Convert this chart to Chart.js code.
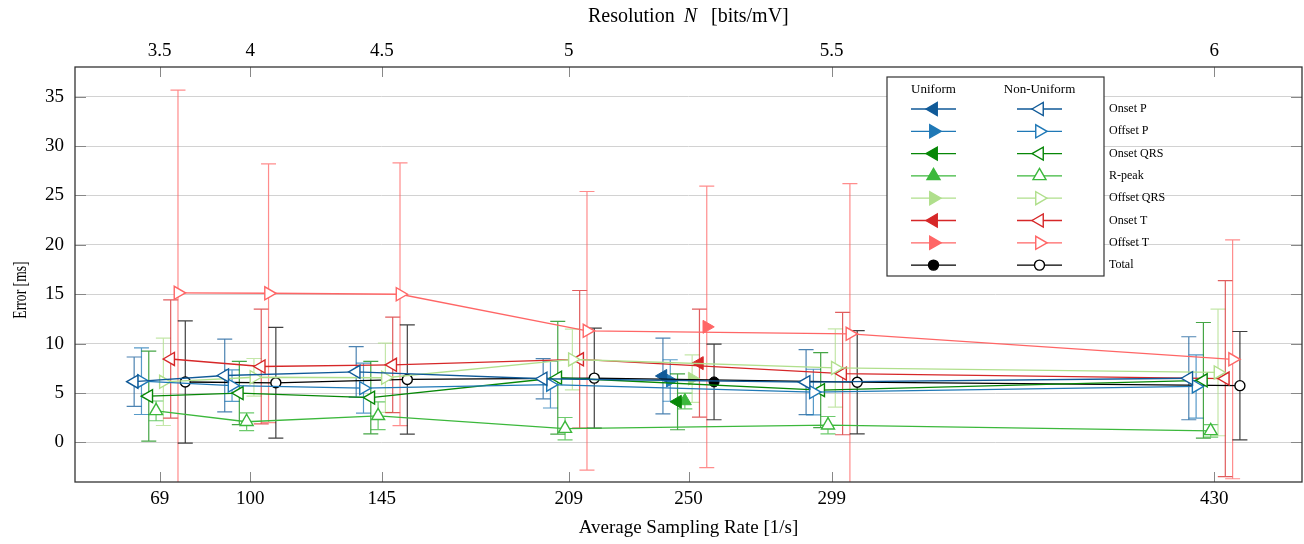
<!DOCTYPE html>
<html>
<head>
<meta charset="utf-8">
<script src="https://cdn.jsdelivr.net/npm/chart.js@4/dist/chart.umd.min.js"></script>
<style>
    html, body { margin: 0; padding: 0; background: #fff; }
</style>
</head>
<body>
<canvas id="ErrorChart" width="1304" height="544"></canvas>
<script>
// average sampling rates of the non-uniform runs, and their resolution N
var rates = [69, 100, 145, 209, 299, 430];
var resolutions = ['3.5', '4', '4.5', '5', '5.5', '6'];
var uniformRate = 250;
var rateTicks = [69, 100, 145, 209, 250, 299, 430];
var errorTicks = [0, 5, 10, 15, 20, 25, 30, 35];

var seriesNames = ['Onset P', 'Offset P', 'Onset QRS', 'R-peak', 'Offset QRS', 'Onset T', 'Offset T', 'Total'];

// non-uniform: mean error and std per rate
var onsetP = [6.15, 6.78, 7.15, 6.45, 6.1, 6.5];
var onsetPStd = [2.5, 3.68, 2.56, 2.03, 3.29, 4.2];
var offsetP = [6.2, 5.75, 5.5, 5.85, 5.1, 5.67];
var offsetPStd = [3.37, 1.6, 2.53, 2.36, 2.31, 3.2];
var onsetQRS = [4.69, 5.0, 4.54, 6.55, 5.3, 6.29];
var onsetQRSStd = [4.55, 3.2, 3.66, 5.7, 3.8, 5.85];
var rPeak = [3.2, 2.1, 2.7, 1.4, 1.75, 1.17];
var rPeakStd = [1.0, 0.9, 1.4, 1.13, 0.88, 0.63];
var offsetQRS = [6.14, 6.6, 6.55, 8.4, 7.54, 7.09];
var offsetQRSStd = [4.42, 1.9, 3.5, 3.07, 3.96, 6.41];
var onsetT = [8.45, 7.69, 7.86, 8.42, 6.97, 6.47];
var onsetTStd = [5.98, 5.8, 4.83, 6.96, 6.19, 9.92];
var offsetT = [15.15, 15.1, 15.0, 11.3, 11.0, 8.42];
var offsetTStd = [20.5, 13.1, 13.3, 14.1, 15.2, 12.09];
var total = [6.12, 6.04, 6.38, 6.51, 6.1, 5.75];
var totalStd = [6.18, 5.6, 5.53, 5.06, 5.23, 5.48];

// uniform sampling (250 1/s), same series order
var uniformMean = [6.73, 6.27, 4.12, 4.2, 6.46, 8.03, 11.7, 6.13];
var uniformStd = [3.83, 2.1, 2.83, 0.8, 2.41, 5.46, 14.25, 3.83];

var nonUniformMeans = [onsetP, offsetP, onsetQRS, rPeak, offsetQRS, onsetT, offsetT, total];
var nonUniformStds = [onsetPStd, offsetPStd, onsetQRSStd, rPeakStd, offsetQRSStd, onsetTStd, offsetTStd, totalStd];

var colors = ['#105a98', '#1f78b6', '#078707', '#3cb83c', '#b0df8c', '#d62728', '#ff6666', '#000000'];
var markers = ['left', 'right', 'left', 'up', 'right', 'left', 'right', 'circle'];

var serif = 'Liberation Serif, Times New Roman, serif';

function Shift(i) {
    // markers of one group are spread a little so the error bars stay apart
    return (i - 3.5) * 2.5;
}

function Rotation(m) {
    if (m == 'left') return -90;
    if (m == 'right') return 90;
    return 0;
}

var datasets = [];
for (var i = 0; i < seriesNames.length; i++) {
    var pts = [];
    for (var j = 0; j < rates.length; j++) {
        pts.push({ x: rates[j] + Shift(i), y: nonUniformMeans[i][j], err: nonUniformStds[i][j] });
    }
    datasets.push({
        label: seriesNames[i] + ' (non-uniform)',
        data: pts,
        borderColor: colors[i],
        backgroundColor: '#ffffff',
        borderWidth: 1.3,
        pointStyle: markers[i] == 'circle' ? 'circle' : 'triangle',
        rotation: Rotation(markers[i]),
        pointRadius: markers[i] == 'circle' ? 5 : 7.5,
        pointBorderWidth: 1.4,
        pointBackgroundColor: '#ffffff',
        pointBorderColor: colors[i],
        tension: 0
    });
}
for (var i = 0; i < seriesNames.length; i++) {
    datasets.push({
        label: seriesNames[i] + ' (uniform)',
        data: [{ x: uniformRate + Shift(i), y: uniformMean[i], err: uniformStd[i] }],
        borderColor: colors[i],
        backgroundColor: colors[i],
        borderWidth: 1.3,
        pointStyle: markers[i] == 'circle' ? 'circle' : 'triangle',
        rotation: Rotation(markers[i]),
        pointRadius: markers[i] == 'circle' ? 5 : 7.5,
        pointBorderWidth: 1,
        pointBackgroundColor: colors[i],
        pointBorderColor: colors[i]
    });
}

function DrawMark(ctx, m, x, y, color, filled) {
    ctx.save();
    ctx.strokeStyle = color;
    ctx.fillStyle = filled ? color : '#ffffff';
    ctx.lineWidth = 1.4;
    ctx.beginPath();
    if (m == 'circle') {
        ctx.arc(x, y, 5, 0, Math.PI * 2);
    } else {
        var rad = Rotation(m) * Math.PI / 180;
        var r = 7.5;
        for (var k = 0; k < 3; k++) {
            var a = rad + k * 2 * Math.PI / 3;
            var px = x + Math.sin(a) * r, py = y - Math.cos(a) * r;
            if (k == 0) ctx.moveTo(px, py); else ctx.lineTo(px, py);
        }
        ctx.closePath();
    }
    ctx.fill();
    ctx.stroke();
    ctx.restore();
}

var errorBars = {
    id: 'errorBars',
    beforeDatasetsDraw: function (chart) {
        var ctx = chart.ctx, a = chart.chartArea;
        var xs = chart.scales.x, ys = chart.scales.y;
        ctx.save();
        ctx.beginPath();
        ctx.rect(a.left, a.top, a.right - a.left, a.bottom - a.top);
        ctx.clip();
        ctx.globalAlpha = 0.75;
        ctx.lineWidth = 1.2;
        chart.data.datasets.forEach(function (ds) {
            ctx.strokeStyle = ds.borderColor;
            ds.data.forEach(function (p) {
                var x = xs.getPixelForValue(p.x);
                var y1 = ys.getPixelForValue(p.y + p.err);
                var y2 = ys.getPixelForValue(p.y - p.err);
                ctx.beginPath();
                ctx.moveTo(x, y1); ctx.lineTo(x, y2);
                ctx.moveTo(x - 7.5, y1); ctx.lineTo(x + 7.5, y1);
                ctx.moveTo(x - 7.5, y2); ctx.lineTo(x + 7.5, y2);
                ctx.stroke();
            });
        });
        ctx.restore();
    }
};

var frameAndLegend = {
    id: 'frameAndLegend',
    afterDraw: function (chart) {
        var ctx = chart.ctx, a = chart.chartArea;
        var xs = chart.scales.x, ys = chart.scales.y;
        ctx.save();
        // inward tick marks
        ctx.strokeStyle = '#888';
        ctx.lineWidth = 1;
        ctx.beginPath();
        rateTicks.forEach(function (v) {
            var x = Math.round(xs.getPixelForValue(v)) + 0.5;
            ctx.moveTo(x, a.bottom); ctx.lineTo(x, a.bottom - 10);
        });
        rates.forEach(function (v) {
            var x = Math.round(xs.getPixelForValue(v)) + 0.5;
            ctx.moveTo(x, a.top); ctx.lineTo(x, a.top + 10);
        });
        errorTicks.forEach(function (v) {
            var y = Math.round(ys.getPixelForValue(v)) + 0.5;
            ctx.moveTo(a.left, y); ctx.lineTo(a.left + 11, y);
            ctx.moveTo(a.right, y); ctx.lineTo(a.right - 11, y);
        });
        ctx.stroke();

        // axis frame
        ctx.strokeStyle = '#333';
        ctx.lineWidth = 1.3;
        ctx.strokeRect(a.left, a.top, a.right - a.left, a.bottom - a.top);

        // top title with italic N
        ctx.fillStyle = '#000';
        ctx.textBaseline = 'middle';
        ctx.textAlign = 'left';
        var x0 = 588;
        ctx.font = '20px ' + serif;
        ctx.fillText('Resolution', x0, 17);
        x0 += ctx.measureText('Resolution').width + 9;
        ctx.font = 'italic 20px ' + serif;
        ctx.fillText('N', x0, 17);
        x0 += ctx.measureText('N').width + 14;
        ctx.font = '20px ' + serif;
        ctx.fillText('[bits/mV]', x0, 17);

        // y axis title, set narrow like the reference
        ctx.save();
        ctx.translate(21, 290);
        ctx.rotate(-Math.PI / 2);
        ctx.scale(0.72, 1);
        ctx.textAlign = 'center';
        ctx.font = '19px ' + serif;
        ctx.fillText('Error [ms]', 0, 0);
        ctx.restore();

        // legend: box round the marks, names to its right
        var bx = 887, by = 77, bw = 217, bh = 199;
        ctx.fillStyle = '#fff';
        ctx.fillRect(bx, by, bw, bh);
        ctx.strokeStyle = '#333';
        ctx.lineWidth = 1.2;
        ctx.strokeRect(bx, by, bw, bh);
        ctx.fillStyle = '#000';
        ctx.font = '13px ' + serif;
        ctx.textAlign = 'center';
        ctx.fillText('Uniform', 933.5, 90);
        ctx.fillText('Non-Uniform', 1039.5, 90);
        ctx.textAlign = 'left';
        ctx.font = '12px ' + serif;
        for (var i = 0; i < seriesNames.length; i++) {
            var y = 109 + i * 22.3;
            ctx.strokeStyle = colors[i];
            ctx.lineWidth = 1.3;
            ctx.beginPath();
            ctx.moveTo(911, y); ctx.lineTo(956, y);
            ctx.moveTo(1017, y); ctx.lineTo(1062, y);
            ctx.stroke();
            DrawMark(ctx, markers[i], 933.5, y, colors[i], true);
            DrawMark(ctx, markers[i], 1039.5, y, colors[i], false);
            ctx.fillStyle = '#000';
            ctx.fillText(seriesNames[i], 1109, y);
        }
        ctx.restore();
    }
};

var tickFont = { family: serif, size: 19 };

function NoSidePadding(s) {
    s.paddingLeft = 0;
    s.paddingRight = 0;
}

var ctx = document.getElementById('ErrorChart').getContext('2d');
window.MyErrorChart = new Chart(ctx, {
    type: 'line',
    data: { datasets: datasets },
    plugins: [errorBars, frameAndLegend],
    options: {
        responsive: false,
        devicePixelRatio: 1,
        animation: false,
        layout: { autoPadding: false, padding: { left: 0, right: 2, top: 0, bottom: 0 } },
        plugins: {
            legend: { display: false },
            tooltip: { enabled: false }
        },
        scales: {
            x: {
                type: 'linear', position: 'bottom', min: 40, max: 460,
                afterBuildTicks: function (s) { s.ticks = rateTicks.map(function (v) { return { value: v }; }); },
                afterFit: function (s) { s.height = 62; NoSidePadding(s); },
                grid: { display: false, drawTicks: false },
                border: { display: false },
                ticks: { font: tickFont, color: '#000', padding: 6, maxRotation: 0, autoSkip: false },
                title: { display: true, text: 'Average Sampling Rate [1/s]', font: tickFont, color: '#000', padding: { top: 0, bottom: 5 } }
            },
            xTop: {
                type: 'linear', position: 'top', min: 40, max: 460,
                afterBuildTicks: function (s) { s.ticks = rates.map(function (v) { return { value: v }; }); },
                afterFit: function (s) { s.height = 67; NoSidePadding(s); },
                grid: { display: false, drawTicks: false },
                border: { display: false },
                ticks: {
                    font: tickFont, color: '#000', padding: 5, maxRotation: 0, autoSkip: false,
                    callback: function (v) { return resolutions[rates.indexOf(v)]; }
                }
            },
            y: {
                min: -4, max: 38,
                afterBuildTicks: function (s) { s.ticks = errorTicks.map(function (v) { return { value: v }; }); },
                afterFit: function (s) { s.width = 75; },
                grid: { color: '#d2d2d2', lineWidth: 1, drawTicks: false },
                border: { display: false },
                ticks: { font: tickFont, color: '#000', padding: 11 }
            }
        }
    }
});
</script>
</body>
</html>
